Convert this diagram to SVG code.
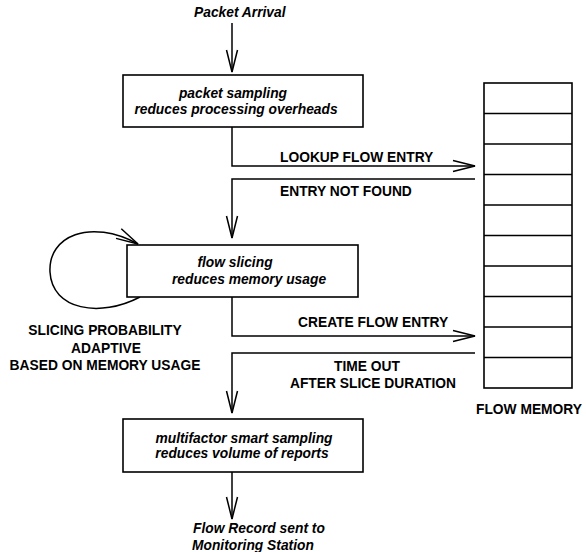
<svg xmlns="http://www.w3.org/2000/svg" width="586" height="552" viewBox="0 0 586 552">
<style>
.box{fill:#fff;stroke:#000;stroke-width:1.6}
.ln{fill:none;stroke:#000;stroke-width:1.5}
.it{font-family:"Liberation Sans",Arial,sans-serif;font-weight:bold;font-style:italic;font-size:13.8px;fill:#000}
.lb{font-family:"Liberation Sans",Arial,sans-serif;font-weight:bold;font-size:13.8px;fill:#000}
</style>
<defs>
<marker id="ah" markerUnits="userSpaceOnUse" markerWidth="30" markerHeight="16" viewBox="-24 -8 26 16" refX="0" refY="0" orient="auto" overflow="visible">
<path d="M-22,-5.5 L0,0 L-22,5.5" fill="none" stroke="#000" stroke-width="1.5"/>
</marker>
</defs>
<rect width="586" height="552" fill="#fff"/>
<g id="connectors">
<path class="ln" d="M232,23 L232,72" marker-end="url(#ah)"/>
<path class="ln" d="M232,127 L232,166 L475,166" marker-end="url(#ah)"/>
<path class="ln" d="M475,179 L232,179 L232,238" marker-end="url(#ah)"/>
<path class="ln" d="M232,297 L232,336 L475,336" marker-end="url(#ah)"/>
<path class="ln" d="M475,353 L232,353 L232,413" marker-end="url(#ah)"/>
<path class="ln" d="M232,472 L232,519" marker-end="url(#ah)"/>
<path class="ln" d="M140,297 C100,318 52,310 50,272 C48,236 90,218 138,244" marker-end="url(#ah)"/>
<text class="lb" x="280" y="162">LOOKUP FLOW ENTRY</text>
<text class="lb" x="280" y="196">ENTRY NOT FOUND</text>
<text class="lb" x="298" y="327">CREATE FLOW ENTRY</text>
<text class="lb" x="367" y="371" text-anchor="middle">TIME OUT</text>
<text class="lb" x="373" y="388" text-anchor="middle">AFTER SLICE DURATION</text>
<text class="lb" x="105" y="335" text-anchor="middle">SLICING PROBABILITY</text>
<text class="lb" x="106" y="353" text-anchor="middle">ADAPTIVE</text>
<text class="lb" x="105" y="370" text-anchor="middle">BASED ON MEMORY USAGE</text>
</g>
<g id="packet-arrival">
<text class="it" x="194" y="17">Packet Arrival</text>
</g>
<g id="packet-sampling">
<rect class="box" x="123" y="75" width="240" height="52"/>
<text class="it" x="233" y="98" text-anchor="middle">packet sampling</text>
<text class="it" x="236" y="114" text-anchor="middle">reduces processing overheads</text>
</g>
<g id="flow-slicing">
<rect class="box" x="127" y="245" width="231" height="52"/>
<text class="it" x="235" y="267" text-anchor="middle">flow slicing</text>
<text class="it" x="249" y="284" text-anchor="middle">reduces memory usage</text>
</g>
<g id="smart-sampling">
<rect class="box" x="123" y="419" width="240" height="53"/>
<text class="it" x="244" y="443" text-anchor="middle">multifactor smart sampling</text>
<text class="it" x="242" y="458" text-anchor="middle">reduces volume of reports</text>
</g>
<g id="flow-record">
<text class="it" x="193" y="533">Flow Record sent to</text>
<text class="it" x="192" y="550">Monitoring Station</text>
</g>
<g id="flow-memory">
<rect class="box" x="484" y="83" width="88" height="305"/>
<path class="ln" d="M484,113.5 H572 M484,144 H572 M484,174.5 H572 M484,205 H572 M484,235.5 H572 M484,266 H572 M484,296.5 H572 M484,327 H572 M484,357.5 H572"/>
<text class="lb" x="529" y="414" text-anchor="middle">FLOW MEMORY</text>
</g>
</svg>
